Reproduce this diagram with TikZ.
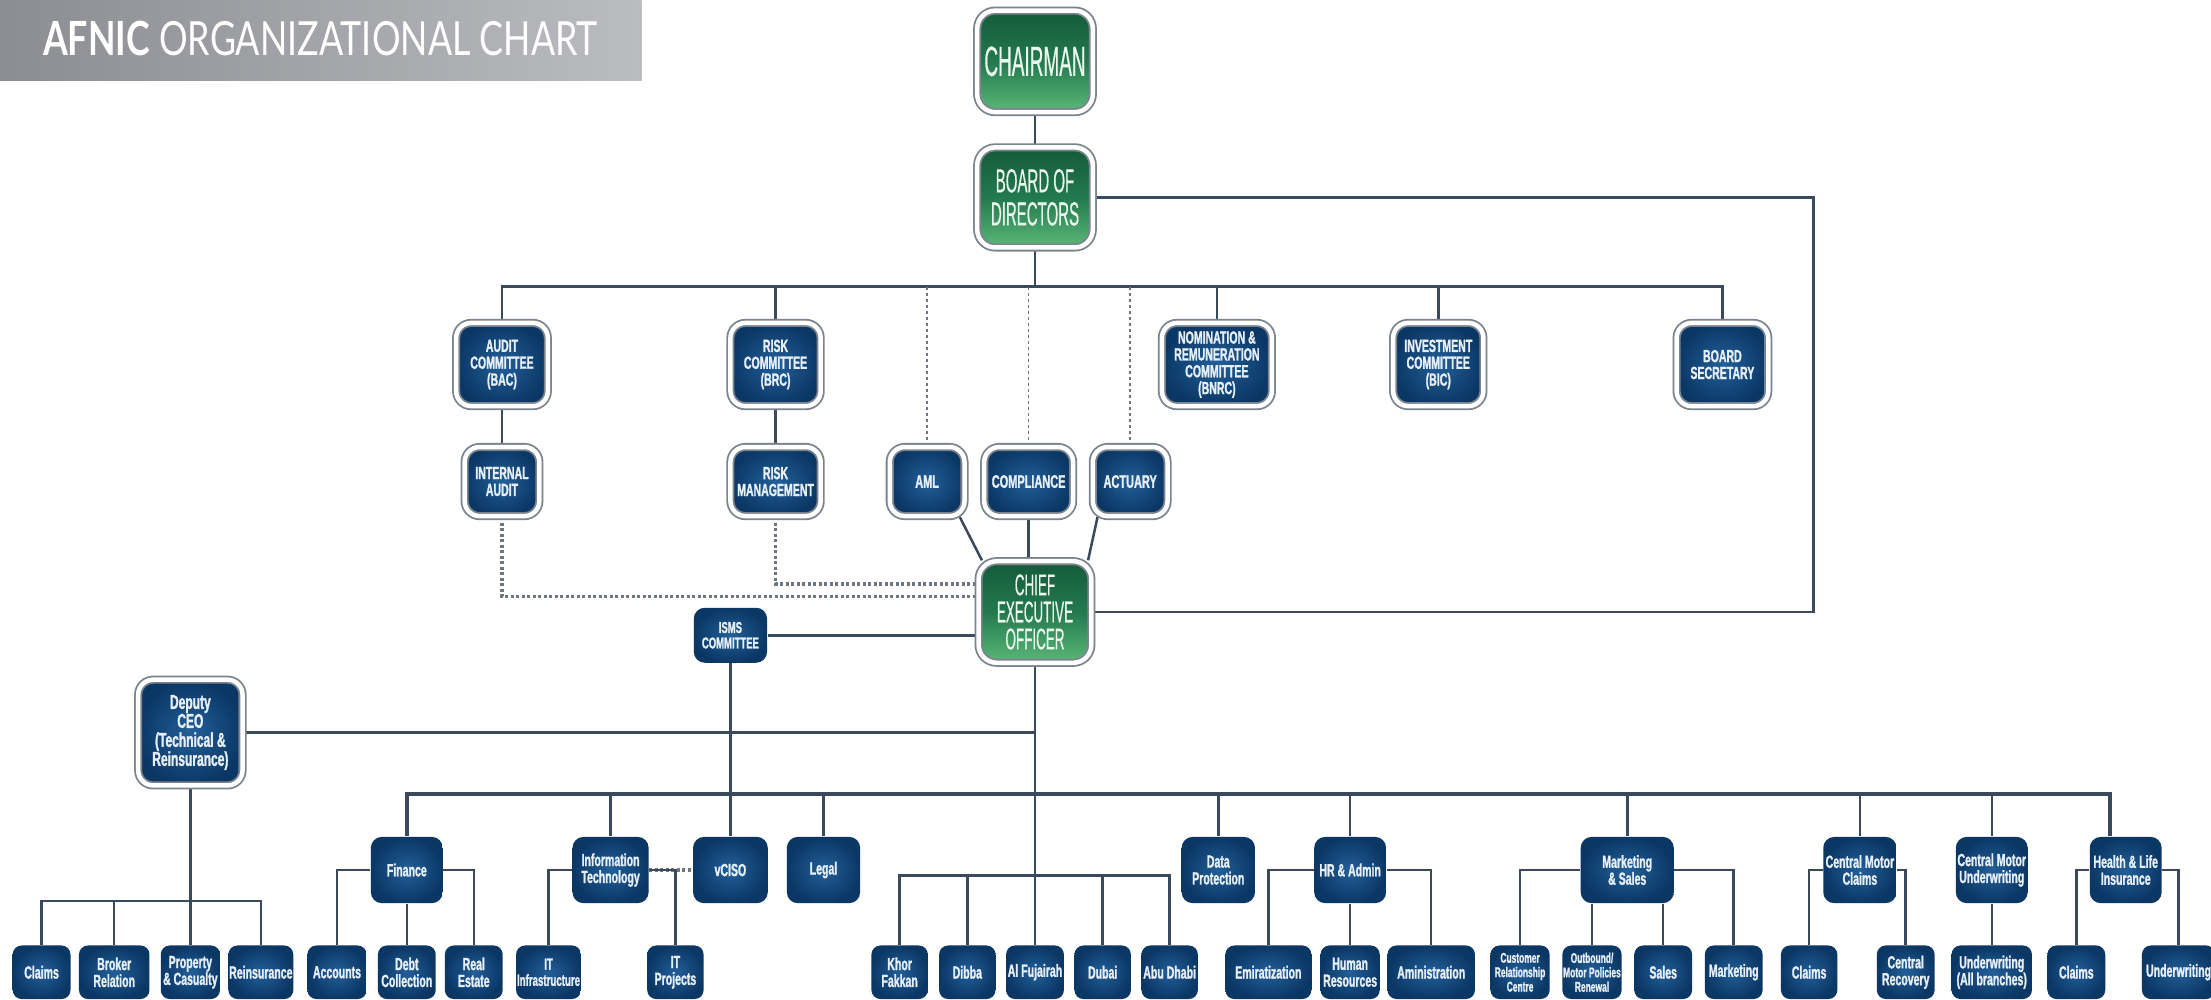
\documentclass[tikz,border=0pt]{standalone}
\usepackage{fontspec}
\usetikzlibrary{calc}
\newfontfamily\titlefont[FakeStretch=0.76]{Lato}
\newfontfamily\boxfont[FakeStretch=0.6, FakeBold=1.3]{Liberation Sans}
\newfontfamily\greenfont[FakeStretch=0.45, FakeBold=0.4]{Liberation Sans}
\definecolor{bluedark}{HTML}{0B3765}
\definecolor{bluemid}{HTML}{225F98}
\definecolor{boxtext}{HTML}{E6EEF8}
\definecolor{greendark}{HTML}{145A3A}
\definecolor{greenmid}{HTML}{23794E}
\definecolor{greenlight}{HTML}{5BB878}
\definecolor{greentext}{HTML}{EAF7EC}
\definecolor{framegray}{HTML}{7B838D}
\definecolor{linecol}{HTML}{3A4A5C}
\definecolor{dotcol}{HTML}{6E7680}
\definecolor{titledark}{HTML}{8B8D92}
\definecolor{titlelight}{HTML}{BBBCC0}
\pgfdeclarelayer{background}
\pgfsetlayers{background,main}
\tikzset{wh/.style 2 args={minimum width=#1*0.141mm, minimum height=#2*0.141mm}}

\begin{document}
\begin{tikzpicture}[x=0.141mm, y=-0.141mm]
\tikzstyle{frame}=[draw=framegray, double=white, double distance=0.45mm, line width=0.18mm]
\tikzstyle{bluebox}=[inner color=bluemid, outer color=bluedark, rounded corners=1.1mm, inner sep=0pt, align=center, text=boxtext, font=\boxfont\bfseries\fontsize{5}{4.8}\selectfont]
\tikzstyle{topbox}=[bluebox, frame, rounded corners=1.5mm]
\tikzstyle{greenbox}=[frame, rounded corners=1.8mm, top color=greendark, bottom color=greenlight, middle color=greenmid, inner sep=0pt, align=center, text=greentext]
\tikzstyle{leaf}=[bluebox, rounded corners=0.9mm]
\tikzstyle{link}=[draw=linecol, line width=0.25mm]
\tikzstyle{bus}=[link, line width=0.35mm]
\tikzstyle{dotlink}=[draw=dotcol, line width=0.35mm, dash pattern=on 0.3mm off 0.25mm]
\tikzstyle{thindot}=[draw=dotcol, line width=0.15mm, dash pattern=on 0.3mm off 0.3mm]
\useasboundingbox (0,0) rectangle (1568,709);

% title bar
\shade[left color=titledark, right color=titlelight] (0,0) rectangle (455,57);
\node[anchor=west, inner sep=0pt, text=white, font=\titlefont\fontsize{13.4}{14}\selectfont] (title) at (30,27) {{\bfseries AFNIC} ORGANIZATIONAL CHART};

% board level
\node[greenbox, wh={82}{72}, font=\greenfont\fontsize{12}{12}\selectfont] (chair) at (734,43.5) {CHAIRMAN};
\node[greenbox, wh={82}{71}, font=\greenfont\fontsize{9.5}{9.4}\selectfont] (bod) at (734,140) {BOARD OF\\DIRECTORS};
\node[greenbox, wh={80}{72}, font=\greenfont\fontsize{8.5}{7.7}\selectfont] (ceo) at (734,434) {CHIEF\\EXECUTIVE\\OFFICER};

% committees
\node[topbox, wh={65}{59}] (audit) at (356,258.5) {AUDIT\\COMMITTEE\\(BAC)};
\node[topbox, wh={64}{59}] (risk) at (550,258.5) {RISK\\COMMITTEE\\(BRC)};
\node[topbox, wh={78}{59}] (nom) at (863,258.5) {NOMINATION \&\\REMUNERATION\\COMMITTEE\\(BNRC)};
\node[topbox, wh={64}{59}] (invest) at (1020,258.5) {INVESTMENT\\COMMITTEE\\(BIC)};
\node[topbox, wh={65}{59}] (bsec) at (1221.5,258.5) {BOARD\\SECRETARY};
\node[topbox, wh={53}{49}] (ia) at (356,341.5) {INTERNAL\\AUDIT};
\node[topbox, wh={64}{49}] (rm) at (550,341.5) {RISK\\MANAGEMENT};
\node[topbox, wh={53}{49}, font=\boxfont\bfseries\fontsize{5.2}{5}\selectfont] (aml) at (657.5,341.5) {AML};
\node[topbox, wh={63}{49}, font=\boxfont\bfseries\fontsize{5.2}{5}\selectfont] (comp) at (729.5,341.5) {COMPLIANCE};
\node[topbox, wh={53}{49}, font=\boxfont\bfseries\fontsize{5.2}{5}\selectfont] (act) at (801.5,341.5) {ACTUARY};
\node[bluebox, wh={52}{39}, font=\boxfont\bfseries\fontsize{4.5}{4.4}\selectfont] (isms) at (518,450.5) {ISMS\\COMMITTEE};
\node[topbox, wh={74}{75}, font=\boxfont\bfseries\fontsize{5.7}{5.4}\selectfont] (deputy) at (135,519.5) {Deputy\\CEO\\(Technical \&\\Reinsurance)};

% departments
\node[bluebox, wh={51}{47}] (fin) at (288.5,617) {Finance};
\node[bluebox, wh={54}{47}] (it) at (433,617) {Information\\Technology};
\node[bluebox, wh={53}{47}] (vciso) at (518,617) {vCISO};
\node[bluebox, wh={52}{47}] (legal) at (584,617) {Legal};
\node[bluebox, wh={52}{47}] (dp) at (864,617) {Data\\Protection};
\node[bluebox, wh={51}{47}] (hr) at (957.5,617) {HR \& Admin};
\node[bluebox, wh={66}{47}] (mkt) at (1154,617) {Marketing\\\& Sales};
\node[bluebox, wh={52}{47}] (cmc) at (1319,617) {Central Motor\\Claims};
\node[bluebox, wh={51}{47}] (cmu) at (1412.5,617) {Central Motor\\Underwriting};
\node[bluebox, wh={51}{47}] (hl) at (1507.5,617) {Health \& Life\\Insurance};

% sections
\node[leaf, wh={41}{38}] (c1) at (29.5,689.5) {Claims};
\node[leaf, wh={50}{38}] (broker) at (81,689.5) {Broker\\Relation};
\node[leaf, wh={42}{38}] (pc) at (135,689.5) {Property\\\& Casualty};
\node[leaf, wh={46}{38}] (reins) at (185,689.5) {Reinsurance};
\node[leaf, wh={42}{38}] (acc) at (239,689.5) {Accounts};
\node[leaf, wh={41}{38}] (debt) at (288.5,689.5) {Debt\\Collection};
\node[leaf, wh={41}{38}] (real) at (336,689.5) {Real\\Estate};
\node[leaf, wh={46}{38}, font=\boxfont\bfseries\fontsize{4.6}{4.6}\selectfont] (itinf) at (389,689.5) {IT\\Infrastructure};
\node[leaf, wh={40}{38}] (itproj) at (479,689.5) {IT\\Projects};
\node[leaf, wh={40}{38}] (khor) at (638,689.5) {Khor\\Fakkan};
\node[leaf, wh={40}{38}] (dibba) at (686,689.5) {Dibba};
\node[leaf, wh={41}{38}] (fuj) at (734,689.5) {Al Fujairah};
\node[leaf, wh={40}{38}] (dubai) at (782,689.5) {Dubai};
\node[leaf, wh={40}{38}] (abu) at (829.5,689.5) {Abu Dhabi};
\node[leaf, wh={61}{38}] (emir) at (899.5,689.5) {Emiratization};
\node[leaf, wh={42}{38}] (hres) at (957.5,689.5) {Human\\Resources};
\node[leaf, wh={62}{38}] (admin) at (1015,689.5) {Aministration};
\node[leaf, wh={42}{38}, font=\boxfont\bfseries\fontsize{4}{4.1}\selectfont] (crc) at (1078,689.5) {Customer\\Relationship\\Centre};
\node[leaf, wh={42}{38}, font=\boxfont\bfseries\fontsize{4}{4.1}\selectfont] (outb) at (1129,689.5) {Outbound/\\Motor Policies\\Renewal};
\node[leaf, wh={41}{38}] (sales) at (1179.5,689.5) {Sales};
\node[leaf, wh={41}{38}] (mktg) at (1229.5,689.5) {Marketing};
\node[leaf, wh={40}{38}] (c2) at (1283,689.5) {Claims};
\node[leaf, wh={41}{38}] (crec) at (1351.5,689.5) {Central\\Recovery};
\node[leaf, wh={57}{38}] (uwall) at (1412.5,689.5) {Underwriting\\(All branches)};
\node[leaf, wh={41}{38}] (c3) at (1472.5,689.5) {Claims};
\node[leaf, wh={52}{38}] (uw) at (1545,689.5) {Underwriting};

\begin{pgfonlayer}{background}
\fill[white] (0,0) rectangle (1568,709);
\coordinate (bus1) at (734,203);
\coordinate (rt) at (1286,300);
\coordinate (dbus) at (734,563);
\coordinate (pbus) at (135,639);
\coordinate (cbus) at (734,621);

% board and committees
\draw[link] (chair) -- (bod);
\draw[link] (bod.south) -- (bus1);
\draw[link] (audit.north) |- (bus1) -| (bsec.north);
\draw[link] (risk.north) -- (risk.north |- bus1);
\draw[link] (nom.north) -- (nom.north |- bus1);
\draw[link] (invest.north) -- (invest.north |- bus1);
\draw[thindot] (aml.north) -- (aml.north |- bus1);
\draw[thindot] (comp.north) -- (comp.north |- bus1);
\draw[thindot] (act.north) -- (act.north |- bus1);
\draw[link] (audit) -- (ia);
\draw[link] (risk) -- (rm);
\draw[link] (bod.east) -| (rt) |- (ceo.east);

% into the CEO
\draw[link] ($(aml.south east)+(-4,0)$) -- ($(ceo.north west)+(3,0)$);
\draw[link] (comp.south) -- (comp.south |- ceo.north);
\draw[link] ($(act.south west)+(4,0)$) -- ($(ceo.north east)+(-3,0)$);
\draw[dotlink] (ia.south) |- ($(ceo.west)+(0,-11)$);
\draw[dotlink] (rm.south) |- ($(ceo.west)+(0,-20)$);
\draw[bus] (isms.east) -- (isms.east -| ceo.west);
\draw[link] (isms.south) -- (vciso.north);

% CEO down
\draw[link] (ceo.south) -- (fuj.north);
\draw[link] (deputy.east) -- (deputy.east -| ceo.south);
\draw[link] (deputy.south) -- (pc.north);
\draw[link] (c1.north) |- (pbus) -| (reins.north);
\draw[link] (broker.north) -- (broker.north |- pbus);

% departments bus
\draw[bus] (fin.north) |- (dbus) -| ($(hl.north)+(-11,0)$);
\draw[link] (it.north) -- (it.north |- dbus);
\draw[link] (legal.north) -- (legal.north |- dbus);
\draw[link] (dp.north) -- (dp.north |- dbus);
\draw[link] (hr.north) -- (hr.north |- dbus);
\draw[link] (mkt.north) -- (mkt.north |- dbus);
\draw[link] (cmc.north) -- (cmc.north |- dbus);
\draw[link] (cmu.north) -- (cmu.north |- dbus);
\draw[dotlink] (it.east) -- (vciso.west);

% sections
\draw[link] (acc.north) |- (fin);
\draw[link] (real.north) |- (fin);
\draw[link] (debt.north) -- (fin.south);
\draw[link] (itinf.north) |- (it);
\draw[link] (itproj.north) |- (it);
\draw[link] (khor.north) |- (cbus) -| (abu.north);
\draw[link] (dibba.north) -- (dibba.north |- cbus);
\draw[link] (dubai.north) -- (dubai.north |- cbus);
\draw[link] (emir.north) |- (hr);
\draw[link] (admin.north) |- (hr);
\draw[link] (hres.north) -- (hres.north |- hr.south);
\draw[link] (crc.north) |- (mkt);
\draw[link] (mktg.north) |- (mkt);
\draw[link] (outb.north) -- (outb.north |- mkt.south);
\draw[link] (sales.north) -- (sales.north |- mkt.south);
\draw[link] (c2.north) |- (cmc);
\draw[link] (crec.north) |- (cmc);
\draw[link] (uwall.north) -- (cmu.south);
\draw[link] (c3.north) |- (hl);
\draw[link] (uw.north) |- (hl);
\end{pgfonlayer}
\end{tikzpicture}
\end{document}
